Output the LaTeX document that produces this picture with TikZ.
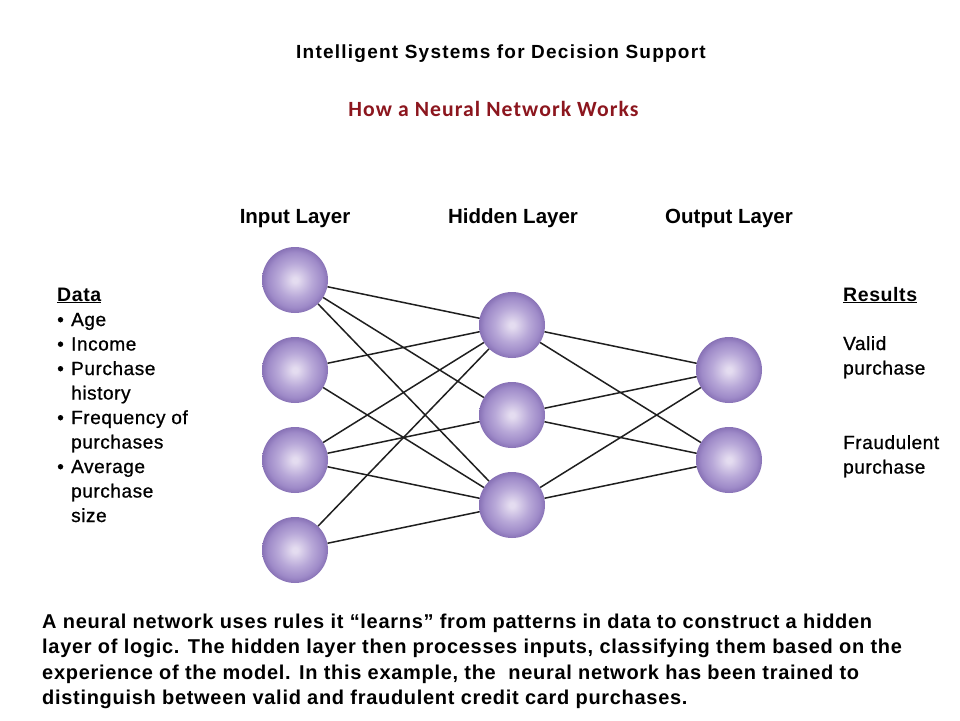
\documentclass[tikz,border=0pt]{standalone}
\usepackage{fontspec}
\setmainfont{Liberation Sans}
\newfontfamily\calib[LetterSpace=5]{Carlito}
\newfontfamily\spacedfont[LetterSpace=3.5]{Liberation Sans}
\newfontfamily\titlefont[LetterSpace=6.5]{Liberation Sans}
\newfontfamily\sidefont[LetterSpace=3,FakeBold=0.8]{Liberation Sans}
\newfontfamily\sideboldfont[LetterSpace=3]{Liberation Sans}
\definecolor{ballA}{RGB}{228,220,240}
\definecolor{ballB}{RGB}{184,168,216}
\definecolor{ballC}{RGB}{158,138,200}
\definecolor{ballD}{RGB}{136,114,182}
\definecolor{titlered}{RGB}{140,22,30}
\pgfdeclareradialshading{neuron}{\pgfpoint{0bp}{0bp}}{color(0bp)=(ballA); color(2bp)=(ballA); color(13bp)=(ballB); color(21bp)=(ballC); color(25bp)=(ballD); color(50bp)=(ballD)}
\tikzset{
  neuron/.style={circle, minimum size=66pt, inner sep=0pt, shading=neuron},
  link/.style={line width=1.5pt, draw=black!88},
  layerlabel/.style={font=\bfseries\fontsize{20.5}{24}\selectfont, anchor=base, inner sep=0pt},
  sidetext/.style={font=\sidefont\fontsize{19}{24}\selectfont, anchor=base west, inner sep=0pt},
  sidehead/.style={font=\sideboldfont\bfseries\fontsize{19.5}{24}\selectfont, anchor=base west, inner sep=0pt},
  bodytext/.style={font=\spacedfont\bfseries\fontsize{20}{25.5}\selectfont, anchor=base west, inner sep=0pt},
}
\begin{document}
\begin{tikzpicture}[x=1pt,y=-1pt]
\useasboundingbox (0,0) rectangle (960,720);
\fill[white] (0,0) rectangle (960,720);

% titles
\node[anchor=base, inner sep=0pt, font=\titlefont\bfseries\fontsize{19}{22}\selectfont] (title) at (501,58) {Intelligent Systems for Decision Support};
\node[anchor=base, inner sep=0pt, text=titlered, font=\calib\bfseries\fontsize{21.7}{24}\selectfont] (subtitle) at (493.5,116) {How a Neural Network Works};

% layer labels
\node[layerlabel] (linput) at (295,223) {Input Layer};
\node[layerlabel] (lhidden) at (513,223) {Hidden Layer};
\node[layerlabel] (loutput) at (729,223) {Output Layer};

% neurons
\node[neuron] (i1) at (295,280) {};
\node[neuron] (i2) at (295,370) {};
\node[neuron] (i3) at (295,460) {};
\node[neuron] (i4) at (295,550) {};
\node[neuron] (h1) at (512,325) {};
\node[neuron] (h2) at (512,415) {};
\node[neuron] (h3) at (512,505) {};
\node[neuron] (o1) at (729,370) {};
\node[neuron] (o2) at (729,460) {};

% connections
\foreach \a/\b in {i1/h1,i1/h2,i1/h3,i2/h1,i2/h3,i3/h1,i3/h2,i3/h3,i4/h1,i4/h3,
                   h1/o1,h1/o2,h2/o1,h2/o2,h3/o1,h3/o2}
  \draw[link] (\a) -- (\b);

% data list
\node[sidehead] (data) at (57,301) {\underline{Data}};
\node[sidetext] (d1) at (57,326) {\makebox[14pt][l]{•}Age};
\node[sidetext] (d2) at (57,350.5) {\makebox[14pt][l]{•}Income};
\node[sidetext] (d3) at (57,375) {\makebox[14pt][l]{•}Purchase};
\node[sidetext] (d4) at (71,399.5) {history};
\node[sidetext] (d5) at (57,424) {\makebox[14pt][l]{•}Frequency of};
\node[sidetext] (d6) at (71,448.5) {purchases};
\node[sidetext] (d7) at (57,473) {\makebox[14pt][l]{•}Average};
\node[sidetext] (d8) at (71,497.5) {purchase};
\node[sidetext] (d9) at (71,522) {size};

% results
\node[sidehead] (results) at (843,301) {\underline{Results}};
\node[sidetext] (r1) at (843,350) {Valid};
\node[sidetext] (r2) at (843,374.5) {purchase};
\node[sidetext] (r3) at (843,449) {Fraudulent};
\node[sidetext] (r4) at (843,473.5) {purchase};

% body text
\node[bodytext] (b1) at (42,628) {A neural network uses rules it “learns” from patterns in data to construct a hidden};
\node[bodytext] (b2) at (42,653.5) {layer of logic. The hidden layer then processes inputs, classifying them based on the};
\node[bodytext] (b3) at (42,679) {experience of the model. In this example, the\ \ neural network has been trained to};
\node[bodytext] (b4) at (42,704.5) {distinguish between valid and fraudulent credit card purchases.};
\end{tikzpicture}
\end{document}
